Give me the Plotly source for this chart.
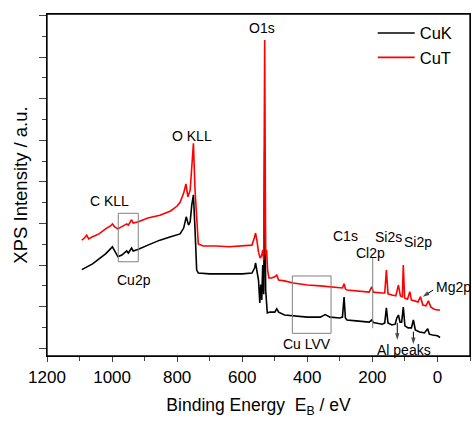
import plotly.graph_objects as go

# ---- data (intensity in arbitrary units) ----
cuk_E = [1093, 1080, 1060, 1040, 1020, 1005, 999, 992, 982, 970, 955, 950, 940, 935, 919, 890, 853, 820, 791,
         780, 772, 765, 760, 755, 750, 745, 740, 735, 700, 650, 600, 570, 562, 559, 555, 550, 546, 543, 540,
         537, 534, 531, 528, 526, 523, 515, 500, 494, 488, 470, 443, 400, 360, 345, 330, 300, 292, 287, 283,
         278, 250, 210, 202, 197, 170, 162, 157, 152, 140, 130, 125, 120, 115, 110, 105, 100, 90, 80, 74, 68,
         55, 40, 30, 25, 15, 0, -8]
cuk_I = [1.89, 1.95, 2.03, 2.15, 2.27, 2.39, 2.44, 2.34, 2.20, 2.24, 2.34, 2.29, 2.41, 2.34, 2.38, 2.48, 2.60,
         2.68, 2.75, 2.89, 3.16, 2.96, 3.04, 3.45, 3.69, 2.84, 1.88, 1.81, 1.79, 1.79, 1.79, 1.81, 1.93, 2.05,
         1.84, 1.64, 1.09, 1.53, 1.16, 2.00, 1.30, 4.76, 1.40, 1.04, 0.85, 0.87, 0.87, 0.95, 0.87, 0.80, 0.78,
         0.75, 0.75, 0.81, 0.75, 0.73, 0.75, 1.23, 0.73, 0.68, 0.66, 0.63, 0.68, 0.62, 0.58, 0.61, 0.97, 0.61,
         0.56, 0.58, 0.73, 0.80, 0.63, 0.63, 0.99, 0.54, 0.49, 0.49, 0.68, 0.44, 0.39, 0.37, 0.47, 0.34, 0.32,
         0.30, 0.26]

cut_E = [1093, 1085, 1078, 1072, 1060, 1040, 1020, 1005, 999, 992, 982, 965, 955, 950, 940, 935, 919, 890, 853,
         820, 800, 791, 780, 773, 767, 760, 755, 750, 745, 740, 735, 720, 680, 640, 600, 570, 563, 559, 555,
         550, 545, 540, 537, 534, 531, 528, 525, 522, 518, 510, 500, 494, 488, 470, 443, 400, 360, 330, 300,
         292, 287, 283, 278, 250, 210, 202, 197, 170, 162, 157, 152, 140, 128, 120, 114, 108, 105, 101, 92,
         85, 80, 70, 60, 52, 45, 35, 28, 20, 10, 0, -8]
cut_I = [2.60, 2.65, 2.72, 2.63, 2.68, 2.75, 2.87, 2.94, 2.99, 2.92, 2.87, 2.94, 2.99, 2.96, 3.09, 3.01, 3.04,
         3.13, 3.20, 3.30, 3.42, 3.51, 3.73, 3.95, 3.64, 3.80, 4.41, 4.93, 3.80, 2.96, 2.51, 2.46, 2.46, 2.44,
         2.46, 2.48, 2.65, 2.77, 2.60, 2.31, 2.17, 2.24, 2.36, 2.12, 7.41, 2.24, 2.36, 1.88, 1.69, 1.69, 1.72,
         1.76, 1.64, 1.62, 1.57, 1.52, 1.50, 1.48, 1.45, 1.45, 1.55, 1.43, 1.40, 1.38, 1.35, 1.48, 1.35, 1.33,
         1.33, 1.88, 1.31, 1.28, 1.26, 1.52, 1.26, 1.23, 2.00, 1.21, 1.18, 1.36, 1.16, 1.14, 1.11, 1.24, 1.04,
         1.02, 1.14, 0.99, 0.94, 0.92, 0.92]

x_ticks = [1200, 1000, 800, 600, 400, 200, 0]
peak_labels = ["O1s", "O KLL", "C KLL", "Cu2p", "Cu LVV", "C1s", "Cl2p", "Si2s", "Si2p", "Al peaks"]
peak_label_E = [540, 755, 1009, 933, 401, 283, 207, 149, 60, 103]
peak_label_I = [7.70, 5.10, 3.54, 1.64, 0.10, 2.70, 2.29, 2.68, 2.56, -0.04]

# arrows: (tail E, tail I) -> (tip E, tip I)
arrow_tail_E = [13, 123.5, 74]
arrow_tail_I = [1.40, 0.61, 0.40]
arrow_tip_E = [45.4, 123.5, 74]
arrow_tip_I = [1.24, 0.20, 0.10]

FONT = "Liberation Sans, Arial, sans-serif"

fig = go.Figure()
fig.add_trace(go.Scatter(x=cuk_E, y=cuk_I, mode="lines", name="CuK",
                         line=dict(color="black", width=1.6)))
fig.add_trace(go.Scatter(x=cut_E, y=cut_I, mode="lines", name="CuT",
                         line=dict(color="red", width=1.6)))
for tx, ty, hx, hy in zip(arrow_tail_E, arrow_tail_I, arrow_tip_E, arrow_tip_I):
    fig.add_trace(go.Scatter(x=[tx, hx], y=[ty, hy], mode="lines+markers", showlegend=False,
                             hoverinfo="skip",
                             line=dict(color="black", width=1),
                             marker=dict(symbol="arrow", angleref="previous", size=[0, 7],
                                         color="black", line=dict(width=0))))

annotations = []
for t, ex, iy in zip(peak_labels, peak_label_E, peak_label_I):
    annotations.append(dict(x=ex, y=iy, text=t, showarrow=False, xref="x", yref="y",
                            font=dict(family=FONT, size=14, color="black")))
annotations.append(dict(x=11, y=1.48, text="Mg2p", showarrow=False, xanchor="left",
                        font=dict(family=FONT, size=14, color="black")))

shapes = [
    dict(type="rect", xref="x", yref="y", x0=981, x1=919.5, y0=2.08, y1=3.245,
         line=dict(color="#808080", width=1)),
    dict(type="rect", xref="x", yref="y", x0=446, x1=327, y0=0.36, y1=1.738,
         line=dict(color="#808080", width=1)),
    dict(type="line", xref="x", yref="y", x0=199, x1=199, y0=2.17, y1=0.48,
         line=dict(color="#808080", width=1)),
    dict(type="rect", xref="paper", yref="paper", x0=0, x1=1, y0=0, y1=1,
         line=dict(color="black", width=1.3), layer="above"),
]

fig.update_layout(
    width=472, height=421,
    margin=dict(l=47, r=2, t=14, b=65),
    paper_bgcolor="white", plot_bgcolor="white",
    font=dict(family=FONT, color="black"),
    showlegend=True,
    legend=dict(x=0.77, y=0.995, xanchor="left", yanchor="top", bgcolor="rgba(0,0,0,0)",
                font=dict(family=FONT, size=16.5), itemwidth=37, tracegroupgap=0),
    annotations=annotations,
    shapes=shapes,
)
fig.update_xaxes(range=[1200, -100], tickvals=x_ticks, ticks="outside", ticklen=5, tickwidth=1,
                 minor=dict(dtick=100, ticks="outside", ticklen=3.5, tickwidth=1),
                 showline=True, linecolor="black", linewidth=1.3, mirror=True,
                 showgrid=False, zeroline=False, tickfont=dict(size=17, family=FONT),
                 title=dict(text="Binding Energy&nbsp;&nbsp;E<sub>B</sub> / eV",
                            font=dict(size=17.5, family=FONT), standoff=13))
fig.update_yaxes(range=[-0.185, 8.035], tickvals=[0, 1, 2, 3, 4, 5, 6, 7, 8], ticks="outside",
                 ticklen=7, tickwidth=1, showticklabels=False,
                 minor=dict(dtick=0.5, tick0=0, ticks="outside", ticklen=3.5, tickwidth=1),
                 showline=True, linecolor="black", linewidth=1.3, mirror=True,
                 showgrid=False, zeroline=False,
                 title=dict(text="XPS Intensity / a.u.", font=dict(size=18.5, family=FONT), standoff=6))

fig.write_html("out.html", config={"displayModeBar": False},
               post_script="document.body.style.margin='0';")
